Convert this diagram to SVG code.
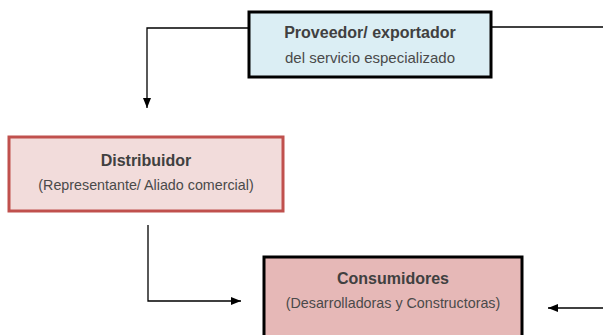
<svg xmlns="http://www.w3.org/2000/svg" width="603" height="335" viewBox="0 0 603 335">
<style>
.t{font-family:"Liberation Sans",Arial,sans-serif;font-weight:bold;font-size:16px;fill:#404040;text-anchor:middle}
.s{font-family:"Liberation Sans",Arial,sans-serif;font-size:14.3px;fill:#4a4a4a;text-anchor:middle}
.c{fill:none;stroke:#000;stroke-width:1.3}
</style>
<defs>
<marker id="ah" viewBox="0 0 10 10" refX="10" refY="5" markerWidth="10" markerHeight="10" markerUnits="userSpaceOnUse" orient="auto">
<path d="M0,1 L10,5 L0,9 Z" fill="#000"/>
</marker>
</defs>
<rect width="603" height="335" fill="#fff"/>
<g id="connectors">
<path class="c" d="M248,28 H147 V108" marker-end="url(#ah)"/>
<path class="c" d="M492,27 H603"/>
<path class="c" d="M148,225 V301 H241" marker-end="url(#ah)"/>
<path class="c" d="M603,308 H548" marker-end="url(#ah)"/>
</g>
<g id="proveedor">
<rect x="249" y="12" width="242" height="65" fill="#dbeef4" stroke="#000" stroke-width="3"/>
<text class="t" x="370" y="38">Proveedor/ exportador</text>
<text class="s" x="370" y="63" style="font-size:15px">del servicio especializado</text>
</g>
<g id="distribuidor">
<rect x="9" y="137" width="274" height="74" fill="#f2dcdb" stroke="#c0504d" stroke-width="3"/>
<text class="t" x="146" y="166">Distribuidor</text>
<text class="s" x="146" y="190">(Representante/ Aliado comercial)</text>
</g>
<g id="consumidores">
<rect x="264" y="257" width="258" height="90" fill="#e6b8b7" stroke="#000" stroke-width="3"/>
<text class="t" x="393" y="284">Consumidores</text>
<text class="s" x="393" y="308">(Desarrolladoras y Constructoras)</text>
</g>
</svg>
